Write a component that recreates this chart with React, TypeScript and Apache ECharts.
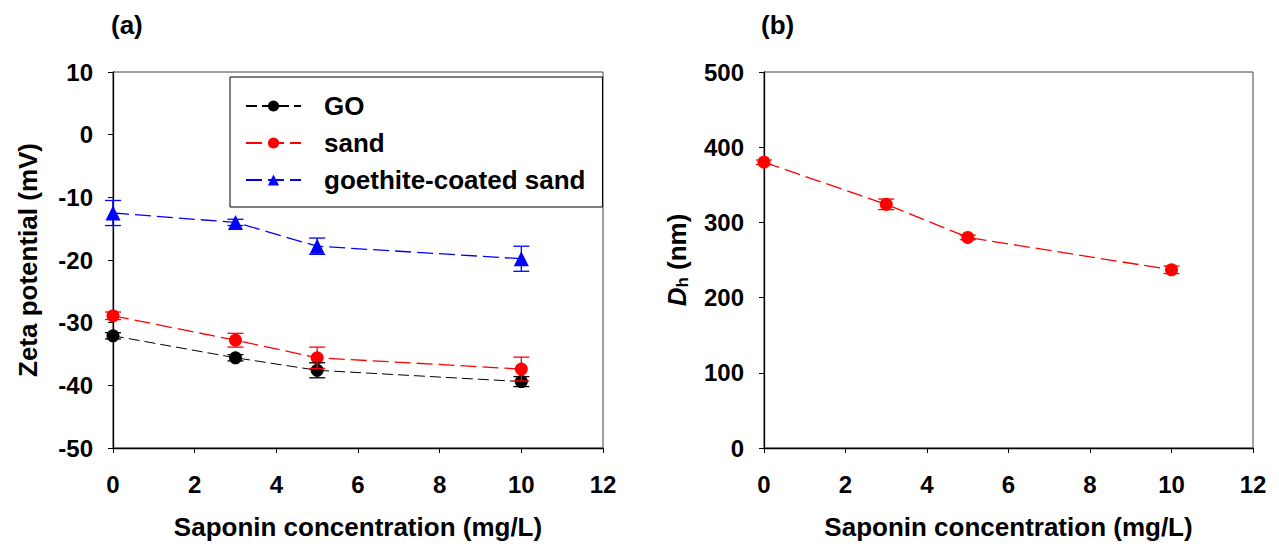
import React, { useEffect, useRef } from "react";
import * as echarts from "echarts";

const conc = [0, 3, 5, 10];
const goZeta = [-32.1, -35.6, -37.6, -39.4];
const goErr = [0.5, 0.5, 1.2, 0.8];
const sandZeta = [-28.9, -32.8, -35.6, -37.4];
const sandErr = [0.6, 1.1, 1.7, 1.9];
const goethiteZeta = [-12.5, -14.0, -17.8, -19.8];
const goethiteErr = [2.0, 0.5, 1.3, 2.0];
const dh = [380, 324, 280, 237];
const dhErr = [3, 7, 3, 5];

const FONT = "Arial, 'Liberation Sans', sans-serif";

function pts(xs: number[], ys: number[]) {
  return xs.map((x, i) => [x, ys[i]]);
}
function errData(xs: number[], ys: number[], es: number[]) {
  return xs.map((x, i) => [x, ys[i] - es[i], ys[i] + es[i]]);
}

function errSeries(name: string, color: string, data: number[][], idx: number) {
  return {
    type: "custom",
    name: name + "-err",
    xAxisIndex: idx,
    yAxisIndex: idx,
    z: 5,
    silent: true,
    renderItem: (params: any, api: any) => {
      const x = api.value(0);
      const lo = api.coord([x, api.value(1)]);
      const hi = api.coord([x, api.value(2)]);
      const w = 8;
      const style = { stroke: color, lineWidth: 1.3 };
      return {
        type: "group",
        children: [
          { type: "line", shape: { x1: lo[0], y1: lo[1], x2: hi[0], y2: hi[1] }, style },
          { type: "line", shape: { x1: lo[0] - w, y1: lo[1], x2: lo[0] + w, y2: lo[1] }, style },
          { type: "line", shape: { x1: hi[0] - w, y1: hi[1], x2: hi[0] + w, y2: hi[1] }, style },
        ],
      };
    },
    data,
  };
}

function lineSeries(name: string, color: string, symbol: string, size: number, data: number[][], idx: number, width: number, dash: number[]) {
  return {
    type: "line",
    name,
    xAxisIndex: idx,
    yAxisIndex: idx,
    symbol,
    symbolSize: size,
    itemStyle: { color },
    lineStyle: { color, width, type: dash },
    z: 4,
    data,
  };
}

const axisLabel = { fontFamily: FONT, fontWeight: "bold", fontSize: 24, color: "#000" };
const nameStyle = { fontFamily: FONT, fontWeight: "bold", fontSize: 26, color: "#000" };

function xAxis(idx: number) {
  return {
    type: "value",
    gridIndex: idx,
    min: 0,
    max: 12,
    interval: 2,
    name: "Saponin concentration (mg/L)",
    nameLocation: "middle",
    nameGap: 66,
    nameTextStyle: nameStyle,
    axisLine: { onZero: false, lineStyle: { color: "#000", width: 1.3 } },
    axisTick: { inside: false, length: 5, lineStyle: { color: "#000" } },
    axisLabel: { ...axisLabel, margin: 24 },
    splitLine: { show: false },
  };
}

function yAxisBase(idx: number, min: number, max: number, interval: number) {
  return {
    type: "value",
    gridIndex: idx,
    min,
    max,
    interval,
    nameLocation: "middle",
    axisLine: { show: true, onZero: false, lineStyle: { color: "#000", width: 1.3 } },
    axisTick: { show: true, inside: false, length: 5, lineStyle: { color: "#000" } },
    axisLabel: { ...axisLabel, margin: 20 },
    splitLine: { show: false },
  };
}

export default function App() {
  const ref = useRef<HTMLDivElement>(null);
  useEffect(() => {
    const chart = echarts.init(ref.current!, undefined, { renderer: "svg" });
    chart.setOption({
      animation: false,
      backgroundColor: "#fff",
      grid: [
        { left: 113, top: 72, width: 490, height: 376, show: true, borderColor: "#444", borderWidth: 1 },
        { left: 764, top: 72, width: 489, height: 376, show: true, borderColor: "#444", borderWidth: 1 },
      ],
      xAxis: [xAxis(0), xAxis(1)],
      yAxis: [
        {
          ...yAxisBase(0, -50, 10, 10),
          name: "Zeta potential (mV)",
          nameGap: 72,
          nameTextStyle: nameStyle,
        },
        {
          ...yAxisBase(1, 0, 500, 100),
          name: "{i|D}{s|h}{n| (nm)}",
          nameGap: 73,
          nameTextStyle: {
            ...nameStyle,
            rich: {
              i: { fontFamily: FONT, fontWeight: "bold", fontStyle: "italic", fontSize: 26, color: "#000" },
              s: { fontFamily: FONT, fontWeight: "bold", fontSize: 17, color: "#000", padding: [12, 0, 0, 0] },
              n: { fontFamily: FONT, fontWeight: "bold", fontSize: 26, color: "#000" },
            },
          },
        },
      ],
      legend: {
        data: ["GO", "sand", "goethite-coated sand"],
        orient: "vertical",
        left: 230,
        top: 77,
        borderColor: "#000",
        borderWidth: 1,
        padding: [16, 17, 14, 15],
        itemWidth: 55,
        itemHeight: 14,
        itemGap: 11,
        textStyle: { fontFamily: FONT, fontWeight: "bold", fontSize: 26, color: "#000", padding: [0, 0, 0, 18] },
      },
      graphic: [
        { type: "text", left: 111, top: 12, style: { text: "(a)", font: `bold 26px ${FONT}`, fill: "#000" } },
        { type: "text", left: 761, top: 12, style: { text: "(b)", font: `bold 26px ${FONT}`, fill: "#000" } },
      ],
      series: [
        errSeries("GO", "#000", errData(conc, goZeta, goErr), 0),
        errSeries("sand", "#ff0000", errData(conc, sandZeta, sandErr), 0),
        errSeries("goethite", "#0000ff", errData(conc, goethiteZeta, goethiteErr), 0),
        lineSeries("GO", "#000", "circle", 13, pts(conc, goZeta), 0, 1, [11, 5]),
        lineSeries("sand", "#ff0000", "circle", 13, pts(conc, sandZeta), 0, 1.3, [16, 6]),
        lineSeries("goethite-coated sand", "#0000ff", "triangle", 15, pts(conc, goethiteZeta), 0, 1.3, [16, 6]),
        errSeries("dh", "#ff0000", errData(conc, dh, dhErr), 1),
        lineSeries("Dh", "#ff0000", "circle", 13, pts(conc, dh), 1, 1.3, [16, 6]),
      ],
    });
    return () => chart.dispose();
  }, []);
  return <div ref={ref} style={{ width: 1279, height: 551, marginLeft: -8, marginTop: -8 }} />;
}
